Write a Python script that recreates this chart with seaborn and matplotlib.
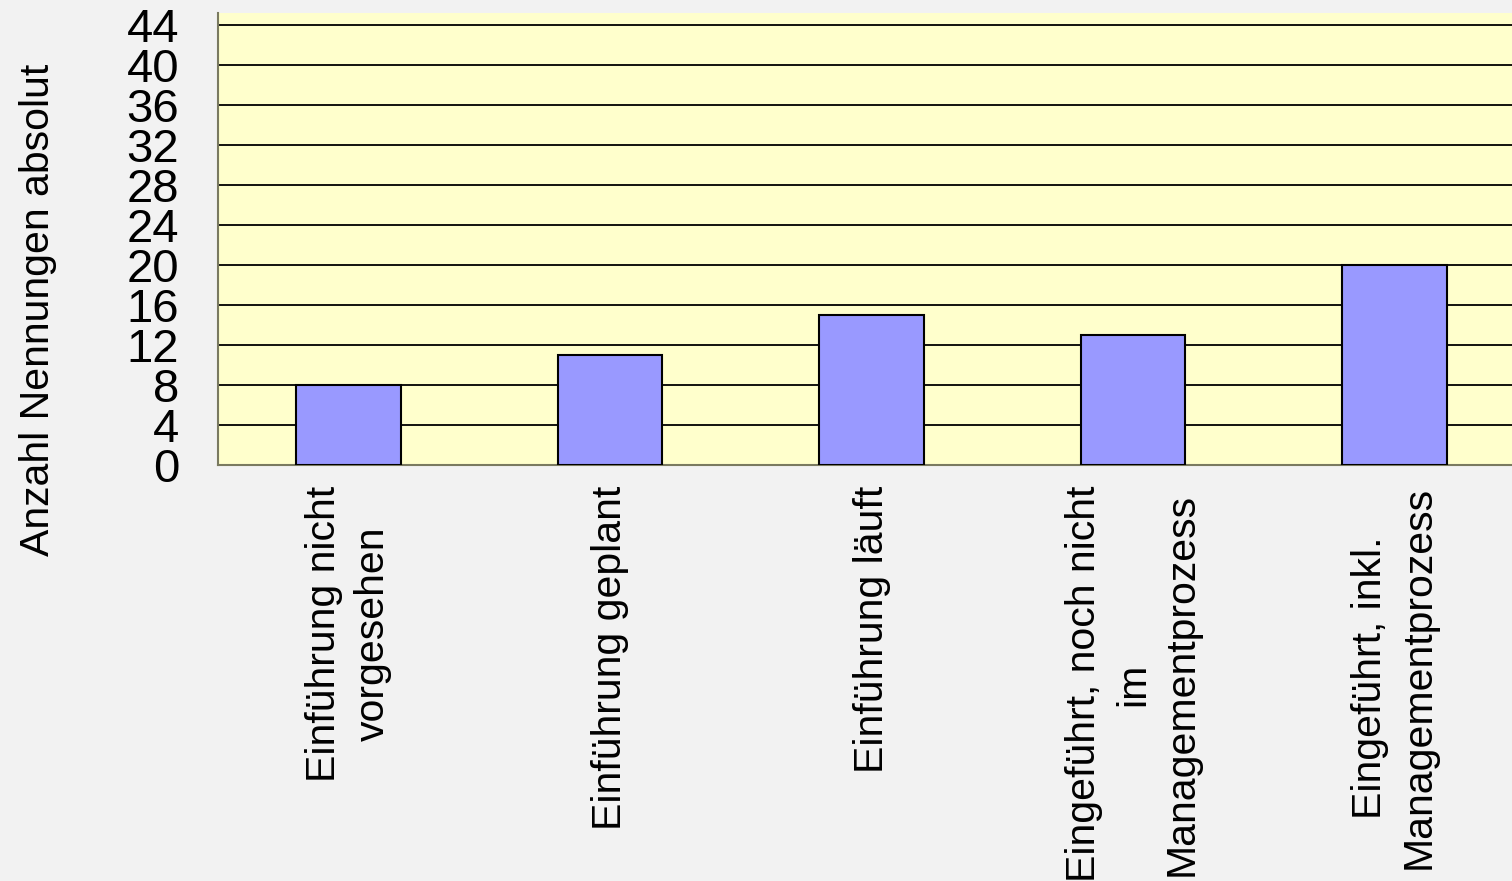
import matplotlib
matplotlib.use("Agg")
import matplotlib.pyplot as plt
import seaborn as sns
import pandas as pd

# categories and counts
kategorien = [
    "Einführung nicht\nvorgesehen",
    "Einführung geplant",
    "Einführung läuft",
    "Eingeführt, noch nicht\nim\nManagementprozess",
    "Eingeführt, inkl.\nManagementprozess",
]
nennungen = [8, 11, 15, 13, 20]
y_ticks = list(range(0, 45, 4))

sns.set_theme(style="white")
plt.rcParams["font.family"] = ["Liberation Sans", "DejaVu Sans"]

df = pd.DataFrame({"kategorie": kategorien, "anzahl": nennungen})

fig = plt.figure(figsize=(15.12, 8.81), dpi=100, facecolor="#F2F2F2")
ax = fig.add_axes([218 / 1512, 1 - 465 / 881, (1525 - 218) / 1512, (465 - 13) / 881])
ax.set_facecolor("#FFFFCC")

sns.barplot(data=df, x="kategorie", y="anzahl", color="#9999FF", saturation=1,
            width=0.4, edgecolor="black", linewidth=1.5, ax=ax, zorder=3)

ax.set_xlim(-0.5, 4.5)
ax.set_ylim(0, 45.15)
ax.set_yticks(y_ticks)
ax.set_yticklabels([str(t) for t in y_ticks], fontsize=34)
ax.yaxis.grid(True, color="black", linewidth=1.3, zorder=1)
ax.set_axisbelow(True)
ax.tick_params(axis="y", length=0, pad=28)
ax.tick_params(axis="x", length=0, pad=15)
ax.set_xticks(range(len(kategorien)))
ax.set_xticklabels(kategorien, rotation=90, fontsize=29.5, ha="center", va="top",
                   multialignment="center", linespacing=1.35)
for t in ax.get_yticklabels() + ax.get_xticklabels():
    t.set_color("black")

ax.set_xlabel("")
ax.set_ylabel("")
for side in ["top", "right"]:
    ax.spines[side].set_visible(False)
for side in ["left", "bottom"]:
    ax.spines[side].set_color("#7A7A60")
    ax.spines[side].set_linewidth(1.5)

fig.text(38 / 1512, 1 - 310 / 881, "Anzahl Nennungen absolut", rotation=90,
         ha="center", va="center", fontsize=29.5, color="black")

fig.savefig("out.png", dpi=100, facecolor=fig.get_facecolor())
